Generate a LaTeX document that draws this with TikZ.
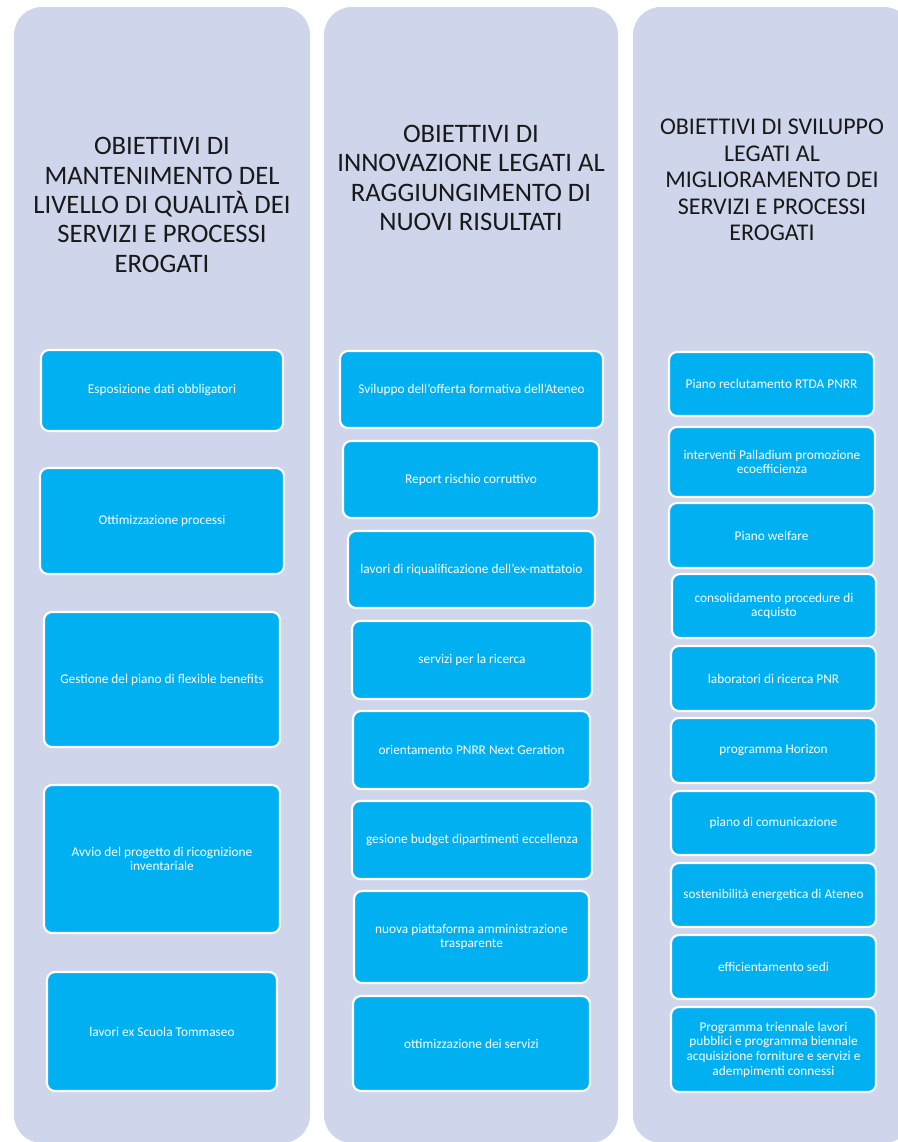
\documentclass[tikz,border=0pt]{standalone}
\usepackage{fontspec}
\setmainfont{Carlito}
\usetikzlibrary{fit}
\definecolor{colbg}{RGB}{207,213,234}
\definecolor{itemblue}{RGB}{0,176,240}
\begin{document}
\begin{tikzpicture}[x=0.75pt,y=-0.75pt,
  colbox/.style={fill=colbg, draw=none, rounded corners=21pt, inner sep=0pt},
  item/.style={draw=white, line width=1.6pt, fill=itemblue, rounded corners=6pt, inner sep=0pt},
  itemtext/.style={text=white, font=\fontsize{10}{11}\selectfont, align=center, inner sep=0pt},
  headA/.style={font=\fontsize{20}{22}\selectfont, align=center, text=black!90},
  headB/.style={font=\fontsize{18}{19.8}\selectfont, align=center, text=black!90}]
\useasboundingbox (0,0) rectangle (898,1142);
\clip (0,0) rectangle (898,1142);
\fill[white] (0,0) rectangle (898,1142);
% columns
\node[colbox, fit={(14,7) (310,1143)}] (col1) {};
\node[colbox, fit={(324,7) (618,1143)}] (col2) {};
\node[colbox, fit={(633,7) (912,1143)}] (col3) {};
% headers
\node[headA] (h1) at (162,205) {OBIETTIVI DI\\MANTENIMENTO DEL\\LIVELLO DI QUALITÀ DEI\\SERVIZI E PROCESSI\\EROGATI};
\node[headA] (h2) at (471,178) {OBIETTIVI DI\\INNOVAZIONE LEGATI AL\\RAGGIUNGIMENTO DI\\NUOVI RISULTATI};
\node[headB] (h3) at (772,180) {OBIETTIVI DI SVILUPPO\\LEGATI AL\\MIGLIORAMENTO DEI\\SERVIZI E PROCESSI\\EROGATI};
% column 1 items
\node[item, fit={(41,350) (283,431)}, label={[itemtext]center:{Esposizione dati obbligatori}}] (a1) {};
\node[item, fit={(40,468) (284,574)}, label={[itemtext]center:{Ottimizzazione processi}}] (a2) {};
\node[item, fit={(44,612) (280,747)}, label={[itemtext]center:{Gestione del piano di flexible benefits}}] (a3) {};
\node[item, fit={(44,785) (280,933)}, label={[itemtext]center:{Avvio del progetto di ricognizione\\inventariale}}] (a4) {};
\node[item, fit={(47,972) (277,1091)}, label={[itemtext]center:{lavori ex Scuola Tommaseo}}] (a5) {};
% column 2 items
\node[item, fit={(340,351) (603,428)}, label={[itemtext]center:{Sviluppo dell’offerta formativa dell’Ateneo}}] (b1) {};
\node[item, fit={(343,441) (599,518)}, label={[itemtext]center:{Report rischio corruttivo}}] (b2) {};
\node[item, fit={(348,531) (595,608)}, label={[itemtext]center:{lavori di riqualificazione dell'ex-mattatoio}}] (b3) {};
\node[item, fit={(352,621) (592,699)}, label={[itemtext]center:{servizi per la ricerca}}] (b4) {};
\node[item, fit={(353,711) (590,789)}, label={[itemtext]center:{orientamento PNRR Next Geration}}] (b5) {};
\node[item, fit={(352,801) (592,879)}, label={[itemtext]center:{gesione budget dipartimenti eccellenza}}] (b6) {};
\node[item, fit={(354,891) (589,983)}, label={[itemtext]center:{nuova piattaforma amministrazione\\trasparente}}] (b7) {};
\node[item, fit={(353,996) (590,1091)}, label={[itemtext]center:{ottimizzazione dei servizi}}] (b8) {};
% column 3 items
\node[item, fit={(669,352) (874,416)}, label={[itemtext]center:{Piano reclutamento RTDA PNRR}}] (c1) {};
\node[item, fit={(669,427) (875,497)}, label={[itemtext]center:{interventi Palladium promozione\\ecoefficienza}}] (c2) {};
\node[item, fit={(669,503) (874,568)}, label={[itemtext]center:{Piano welfare}}] (c3) {};
\node[item, fit={(672,574) (876,638)}, label={[itemtext]center:{consolidamento procedure di\\acquisto}}] (c4) {};
\node[item, fit={(671,646) (876,711)}, label={[itemtext]center:{laboratori di ricerca PNR}}] (c5) {};
\node[item, fit={(671,718) (876,783)}, label={[itemtext]center:{programma Horizon}}] (c6) {};
\node[item, fit={(671,791) (876,855)}, label={[itemtext]center:{piano di comunicazione}}] (c7) {};
\node[item, fit={(671,863) (876,927)}, label={[itemtext]center:{sostenibilità energetica di Ateneo}}] (c8) {};
\node[item, fit={(671,935) (876,999)}, label={[itemtext]center:{efficientamento sedi}}] (c9) {};
\node[item, fit={(671,1007) (876,1092)}, label={[itemtext]center:{Programma triennale lavori\\pubblici e programma biennale\\acquisizione forniture e servizi e\\adempimenti connessi}}] (c10) {};
\end{tikzpicture}
\end{document}
